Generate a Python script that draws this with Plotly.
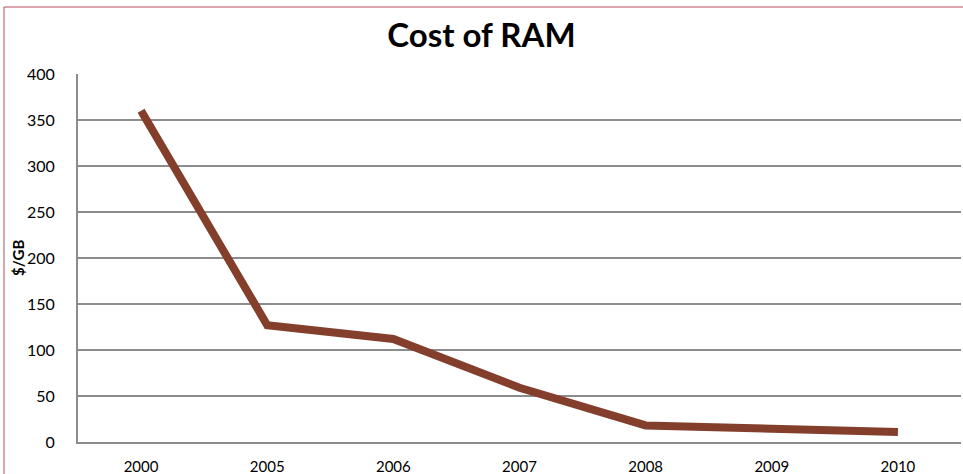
import plotly.graph_objects as go

years = ["2000", "2005", "2006", "2007", "2008", "2009", "2010"]
cost_per_gb = [360, 127, 112, 59, 18, 15, 11]
y_ticks = [0, 50, 100, 150, 200, 250, 300, 350, 400]

W, H = 963, 474
L, R, T, B = 78, 2, 74, 32
pw, ph = W - L - R, H - T - B

fig = go.Figure()
fig.add_trace(go.Scatter(
    x=years, y=cost_per_gb, mode="lines",
    line=dict(color="#833F2C", width=8),
    hoverinfo="x+y",
))

font_family = "Lato, 'Open Sans', sans-serif"
fig.update_layout(
    width=W, height=H,
    margin=dict(l=L, r=R, t=T, b=B, autoexpand=False),
    paper_bgcolor="white", plot_bgcolor="white",
    showlegend=False,
    font=dict(family=font_family, color="black", size=15),
    title=dict(text="<b>Cost of RAM</b>", x=0.5, xanchor="center",
               y=1 - 35 / H, yanchor="middle",
               font=dict(size=33, family=font_family, color="black")),
    xaxis=dict(type="category", range=[-0.5, len(years) - 0.5],
               showgrid=False, showline=True, automargin=False,
               linecolor="#8C8C8C", linewidth=2, ticks="",
               ticklabelstandoff=10, tickfont=dict(size=15)),
    yaxis=dict(range=[0, 400], tickvals=y_ticks, showgrid=True,
               gridcolor="#8C8C8C", gridwidth=1.5, showline=True,
               automargin=False,
               linecolor="#8C8C8C", linewidth=2, zeroline=False,
               ticks="", ticklabelstandoff=18, tickfont=dict(size=16)),
    annotations=[dict(text="<b>$/GB</b>", textangle=-90, showarrow=False,
                      xref="paper", yref="paper",
                      x=(18 - L) / pw, y=0.5, xanchor="center", yanchor="middle",
                      font=dict(size=15, family=font_family, color="black"))],
    shapes=[dict(type="rect", xref="paper", yref="paper",
                 x0=(4 - L) / pw, x1=(W + 10 - L) / pw,
                 y0=-(H + 10 - T - ph) / ph, y1=1 + (T - 7) / ph,
                 line=dict(color="#B94A5C", width=1), layer="above")],
)

fig.write_html("out.html")
